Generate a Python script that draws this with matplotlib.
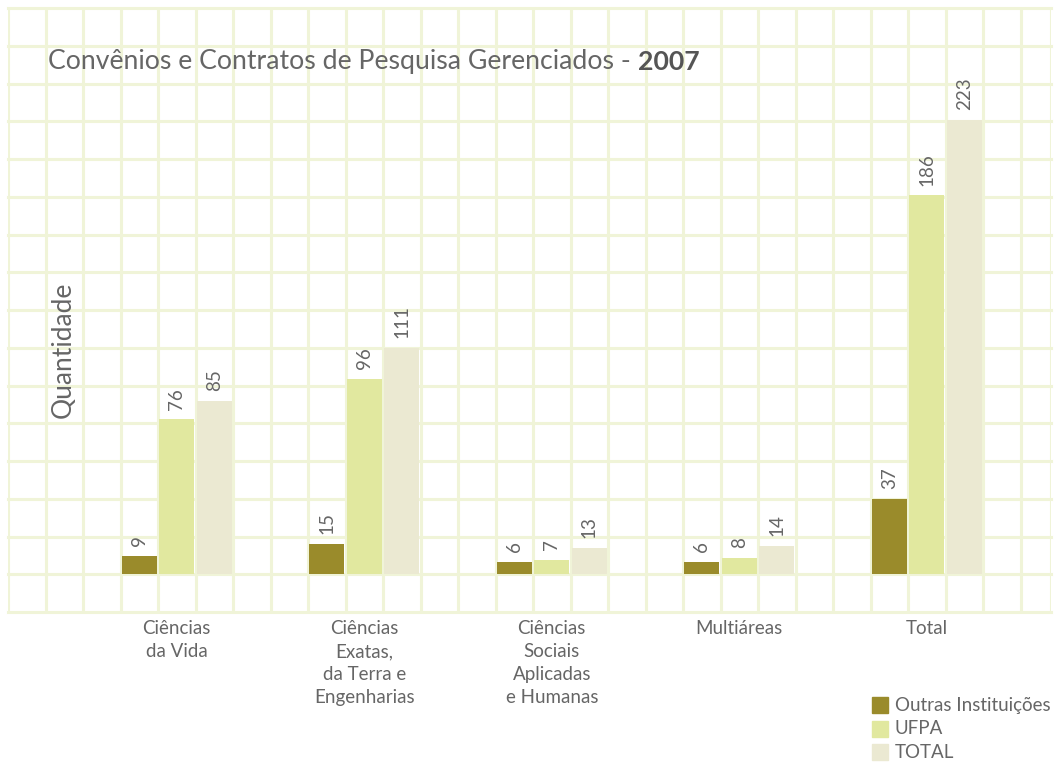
import matplotlib
matplotlib.use('Agg')

import matplotlib.pyplot as plt
import matplotlib.transforms as mtransforms
from matplotlib.patches import Rectangle
import numpy as np

# data
categories = ['Ciências\nda Vida', 'Ciências\nExatas,\nda Terra e\nEngenharias',
              'Ciências\nSociais\nAplicadas\ne Humanas', 'Multiáreas', 'Total']
outras = [9, 15, 6, 6, 37]
ufpa = [76, 96, 7, 8, 186]
total = [85, 111, 13, 14, 223]
series_names = ['Outras Instituições', 'UFPA', 'TOTAL']

COLORS = ['#9a8b2b', '#e1e89f', '#ebe9d2']
GRID = '#f0f4d8'
TEXT = '#666666'
FONT = 'Lato'

W, H = 1055, 765
fig = plt.figure(figsize=(W / 100, H / 100), dpi=100)
fig.patch.set_facecolor('white')

# axes span the whole grid background
left, right, top, bottom = 8, 1051, 8, 612
ax = fig.add_axes([left / W, 1 - bottom / H, (right - left) / W, (bottom - top) / H])
ax.set_axis_off()

cell = 37.5
ncols = (right - left) / cell
ymax = 278.0
ax.set_xlim(0, ncols)
ax.set_ylim(-ymax / 15, ymax)

# background grid
for c in range(int(ncols) + 1):
    ax.axvline(c, color=GRID, lw=2.2, zorder=0)
ax.axvline(ncols, color=GRID, lw=2.2, zorder=0)
for j in range(17):
    ax.plot([0, 1], [j / 16, j / 16], transform=ax.transAxes, color=GRID, lw=2.2, zorder=0,
            clip_on=False)

# bars, one grid cell wide, groups every 5 cells
starts = 3 + 5 * np.arange(len(categories))
bw = 0.93
for k, (vals, col) in enumerate(zip([outras, ufpa, total], COLORS)):
    xs = starts + k + 0.5
    ax.bar(xs, vals, width=bw, color=col, zorder=2)
    for x, v in zip(xs, vals):
        ax.annotate(str(v), (x, v), xytext=(0, 7), textcoords='offset points',
                    rotation=90, ha='center', va='bottom', fontsize=13.5,
                    color=TEXT, family=FONT)

# category labels
trans = mtransforms.blended_transform_factory(ax.transData, fig.transFigure)
for s, lab in zip(starts, categories):
    ax.text(s + 1.5, 1 - 620 / H, lab, transform=trans, ha='center', va='top',
            fontsize=13.5, color=TEXT, family=FONT, linespacing=1.42)

# y label
fig.text(63 / W, 1 - 350 / H, 'Quantidade', rotation=90, ha='center', va='center',
         fontsize=19, color=TEXT, family=FONT)

# title with bold year
t1 = fig.text(48 / W, 1 - 62 / H, 'Convênios e Contratos de Pesquisa Gerenciados - ',
              ha='left', va='center', fontsize=19.2, color=TEXT, family=FONT)
r = fig.canvas.get_renderer()
bb = t1.get_window_extent(r)
fig.text(bb.x1 / W, 1 - 62 / H, '2007', ha='left', va='center', fontsize=19.2,
         color='#555555', family=FONT, fontweight='bold')

# legend
for i, (name, col) in enumerate(zip(series_names, COLORS)):
    yc = 705 + 23.5 * i
    fig.patches.append(Rectangle((872 / W, 1 - (yc + 8) / H), 16 / W, 16 / H,
                                 transform=fig.transFigure, color=col))
    fig.text(895 / W, 1 - yc / H, name, ha='left', va='center', fontsize=13.5,
             color=TEXT, family=FONT)

fig.savefig('out.png', dpi=100, facecolor='white')
